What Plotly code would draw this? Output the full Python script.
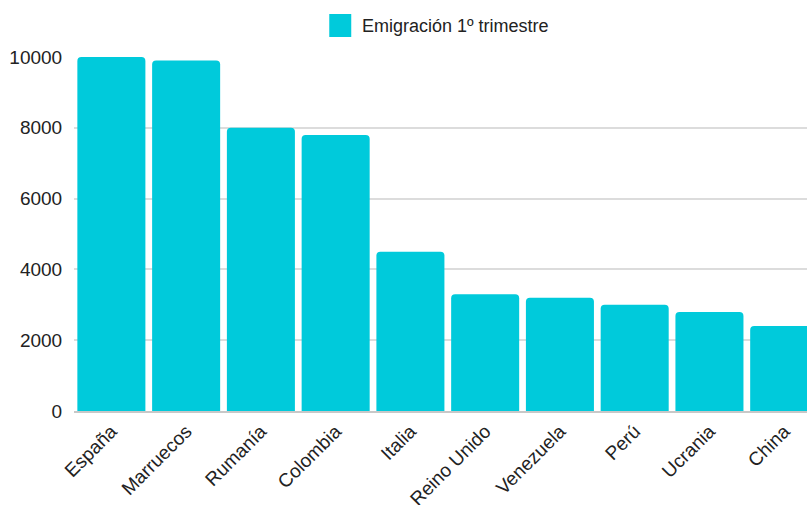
import plotly.graph_objects as go

categories = ["España", "Marruecos", "Rumanía", "Colombia", "Italia",
              "Reino Unido", "Venezuela", "Perú", "Ucrania", "China"]
values = [10000, 9900, 8000, 7800, 4500, 3300, 3200, 3000, 2800, 2400]
series_name = "Emigración 1º trimestre"
y_ticks = [0, 2000, 4000, 6000, 8000, 10000]

BAR = "#00CADB"
TXT = "#222222"
FONT = "Liberation Sans, Arial, sans-serif"

W, H = 807, 505
L, R, T, B = 73.6, 0, 57, 94
PW, PH = W - L - R, H - T - B

fig = go.Figure()
fig.add_trace(go.Bar(x=categories, y=values, name=series_name,
                     marker=dict(color=BAR, line=dict(width=0), cornerradius=4),
                     showlegend=False))

fig.update_layout(
    width=W, height=H,
    margin=dict(l=L, r=R, t=T, b=B, autoexpand=False),
    paper_bgcolor="white", plot_bgcolor="white",
    bargap=0.09,
    font=dict(family=FONT, size=19, color=TXT),
    xaxis=dict(range=[-0.5, 9.305], tickangle=-45, ticks="",
               showgrid=False, showline=True,
               linecolor="#c8c8c8", linewidth=1.5, automargin=False,
               tickfont=dict(size=19, color=TXT)),
    yaxis=dict(range=[0, 10000], tickvals=y_ticks, ticktext=[str(v) for v in y_ticks],
               ticks="outside", ticklen=7, tickcolor="rgba(0,0,0,0)",
               showgrid=True, gridcolor="#dcdcdc", gridwidth=1.5, automargin=False,
               zeroline=False, tickfont=dict(size=19, color=TXT)),
    shapes=[dict(type="rect", xref="paper", yref="paper",
                 x0=(329 - L) / PW, x1=(351 - L) / PW,
                 y0=1 + (T - 37) / PH, y1=1 + (T - 14) / PH,
                 fillcolor=BAR, line=dict(width=0))],
    annotations=[dict(text=series_name, xref="paper", yref="paper",
                      x=(360 - L) / PW, y=1 + (T - 25.5) / PH,
                      xanchor="left", yanchor="middle", showarrow=False,
                      font=dict(size=18, color=TXT))],
)

fig.write_html("out.html", config={"displayModeBar": False})
with open("out.html", encoding="utf-8") as f:
    html = f.read()
html = html.replace("<head>", "<head><style>html,body{margin:0;padding:0;overflow:hidden;}</style>", 1)
with open("out.html", "w", encoding="utf-8") as f:
    f.write(html)
